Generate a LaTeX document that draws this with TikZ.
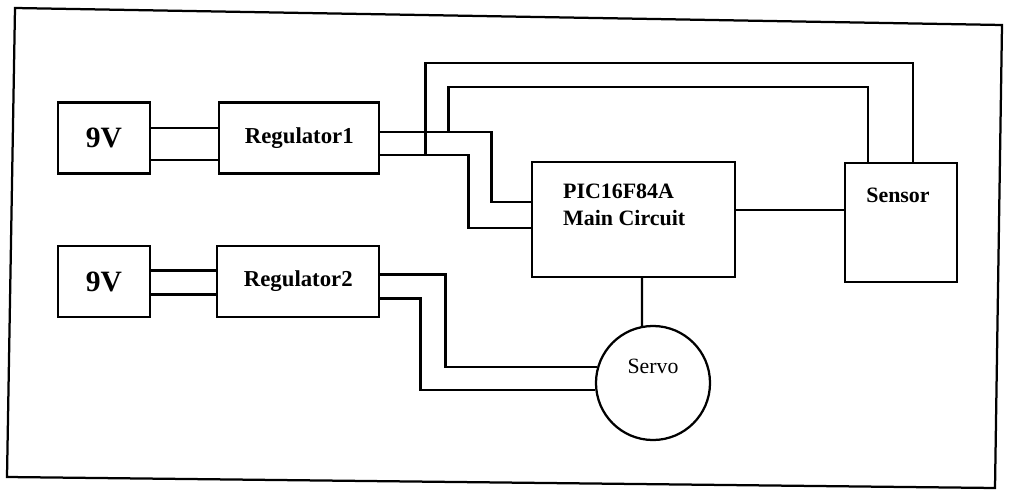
\documentclass[tikz,border=0pt]{standalone}
\usepackage{fontspec}
\setmainfont{Liberation Serif}
\usetikzlibrary{positioning}

\begin{document}
\begin{tikzpicture}[x=0.025cm,y=-0.025cm,line width=1.6pt]
\tikzstyle{block}=[draw, rectangle, inner sep=0pt, font=\bfseries\fontsize{16.2}{19}\selectfont]
\tikzstyle{batt}=[block, minimum width=2.3cm, minimum height=1.78cm, font=\bfseries\fontsize{21}{24}\selectfont]
\tikzstyle{lbl}=[inner sep=0pt, font=\bfseries\fontsize{15.6}{19}\selectfont]

\useasboundingbox (0,0) rectangle (1013,492);
\draw (15,8) -- (1002,25) -- (995,488) -- (7,477) -- cycle;

% supplies
\node[batt] (bat1) at (104,138) {9V};
\node[block, minimum width=4cm, minimum height=1.78cm, right=1.675cm of bat1] (reg1) {Regulator1};
\node[batt, below=1.75cm of bat1] (bat2) {9V};
\node[block, minimum width=4.05cm, minimum height=1.78cm, right=1.625cm of bat2] (reg2) {Regulator2};

% controller, sensor, servo
\node[block, minimum width=5.075cm, minimum height=2.875cm] (pic) at (633.5,219.5) {};
\node[lbl, align=left, anchor=west] (pictxt) at (562,205) {PIC16F84A\\Main Circuit};
\node[block, minimum width=2.8cm, minimum height=2.975cm] (sensor) at (901,222.5) {};
\node[lbl] (sensortxt) at (898,195) {Sensor};
\node[draw, circle, inner sep=0pt, minimum size=2.85cm] (servo) at (653,383) {};
\node[lbl, font=\fontsize{15.5}{18}\selectfont] (servotxt) at (653,366) {Servo};

\draw ([yshift=.25cm]bat1.east) -- ([yshift=.25cm]bat1.east -| reg1.west);
\draw ([yshift=-.55cm]bat1.east) -- ([yshift=-.55cm]bat1.east -| reg1.west);
\draw ([yshift=.275cm]bat2.east) -- ([yshift=.275cm]bat2.east -| reg2.west);
\draw ([yshift=-.325cm]bat2.east) -- ([yshift=-.325cm]bat2.east -| reg2.west);

\draw ([yshift=.15cm]reg1.east) -- ++(111,0) |- ([yshift=.44cm]pic.west);
\draw ([yshift=-.425cm]reg1.east) -- ++(88,0) |- ([yshift=-.21cm]pic.west);
\coordinate (tapA) at ([xshift=1.7cm,yshift=.15cm]reg1.east);
\coordinate (tapB) at ([xshift=1.125cm,yshift=-.425cm]reg1.east);
\draw (tapB) -- ++(0,-92) -| ([xshift=.3cm]sensor.north);
\draw (tapA) -- ++(0,-45) -| ([xshift=-.83cm]sensor.north);
\draw ([yshift=.24cm]pic.east) -- ([yshift=.24cm]pic.east -| sensor.west);

\draw ([yshift=.175cm]reg2.east) -- ++(65,0) |- (servo.164);
\draw ([yshift=-.425cm]reg2.east) -- ++(40,0) |- (servo.187);
\draw ([xshift=.21cm]pic.south) -- (servo.101);
\end{tikzpicture}
\end{document}
